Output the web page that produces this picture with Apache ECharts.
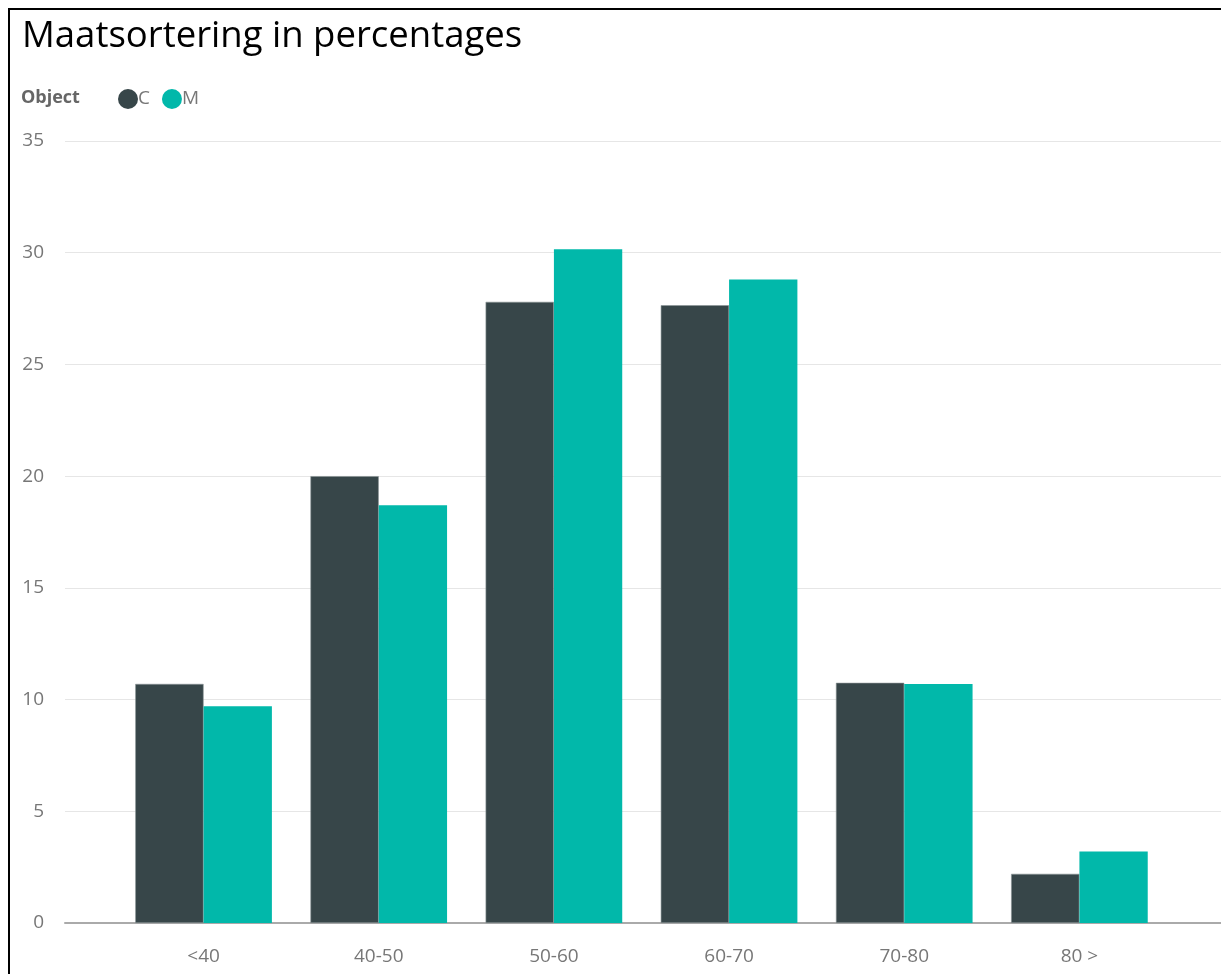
<!DOCTYPE html>
<html>
<head>
<meta charset="utf-8">
<script src="https://cdn.jsdelivr.net/npm/echarts@6/dist/echarts.min.js"></script>
<style>
  html, body { margin: 0; padding: 0; background: #fff; overflow: hidden; }
  #chart { width: 1221px; height: 974px; }
</style>
</head>
<body>
<div id="chart"></div>
<script>
const categories = ["<40", "40-50", "50-60", "60-70", "70-80", "80 >"];
const seriesC = [10.7, 20.0, 27.8, 27.65, 10.75, 2.2];
const seriesM = [9.7, 18.7, 30.15, 28.8, 10.7, 3.2];
const yTicks = { min: 0, max: 35, interval: 5 };

const font = "'Open Sans', 'Noto Sans', sans-serif";
const grey = "#777";

const chart = echarts.init(document.getElementById("chart"));

chart.setOption({
  animation: false,
  title: {
    text: "Maatsortering in percentages",
    left: 17,
    top: 13,
    textStyle: { fontFamily: font, fontSize: 36.5, fontWeight: "normal", color: "#000" },
  },
  graphic: [
    {
      type: "rect",
      shape: { x: 9, y: 9, width: 1400, height: 1200 },
      style: { fill: "none", stroke: "#000", lineWidth: 2 },
      silent: true,
    },
    {
      type: "text",
      left: 21,
      top: 89,
      style: { text: "Object", fontFamily: font, fontSize: 18, fontWeight: "bold", fill: "#666" },
    },
  ],
  legend: {
    left: 113,
    top: 84,
    icon: "circle",
    itemWidth: 20,
    itemHeight: 20,
    itemGap: 12,
    itemStyle: { borderWidth: 0 },
    textStyle: { fontFamily: font, fontSize: 19, color: grey, padding: [0, 0, 0, -5] },
    data: ["C", "M"],
  },
  color: ["#374649", "#01B8AA"],
  grid: [
    { left: 65, right: 0, top: 141, bottom: 51 },
    { left: 116, width: 1051, top: 141, bottom: 51 },
  ],
  xAxis: [
    {
      gridIndex: 0,
      type: "category",
      data: categories,
      axisLine: { lineStyle: { color: "#aaa", width: 2 } },
      axisTick: { show: false },
      axisLabel: { show: false },
    },
    {
      gridIndex: 1,
      type: "category",
      data: categories,
      axisLine: { show: false },
      axisTick: { show: false },
      axisLabel: { fontFamily: font, fontSize: 19, color: grey, margin: 24 },
    },
  ],
  yAxis: [
    {
      gridIndex: 0,
      type: "value",
      min: yTicks.min,
      max: yTicks.max,
      interval: yTicks.interval,
      axisLine: { show: false },
      axisTick: { show: false },
      axisLabel: { fontFamily: font, fontSize: 19, color: grey, margin: 21 },
      splitLine: { lineStyle: { color: "#e6e6e6", width: 1 } },
    },
    {
      gridIndex: 1,
      type: "value",
      min: yTicks.min,
      max: yTicks.max,
      interval: yTicks.interval,
      show: false,
      splitLine: { show: false },
    },
  ],
  series: [
    {
      name: "C",
      type: "bar",
      xAxisIndex: 1,
      yAxisIndex: 1,
      data: seriesC,
      barGap: "0%",
      barCategoryGap: "22%",
      itemStyle: { borderColor: "#8a9496", borderWidth: 0.6 },
    },
    {
      name: "M",
      type: "bar",
      xAxisIndex: 1,
      yAxisIndex: 1,
      data: seriesM,
      barGap: "0%",
      barCategoryGap: "22%",
    },
  ],
});
</script>
</body>
</html>
